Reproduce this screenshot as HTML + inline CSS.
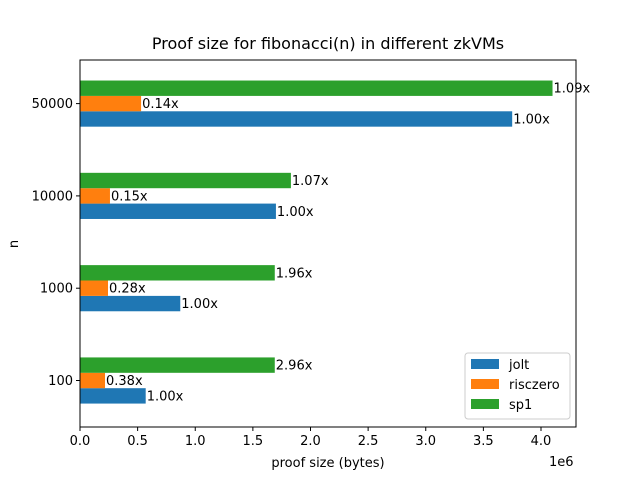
<!DOCTYPE html>
<html><head><meta charset="utf-8"><style>body{margin:0;background:#fff}svg{font-family:"DejaVu Sans","Liberation Sans",sans-serif}</style></head>
<body>
<svg id="c" width="640" height="480" viewBox="0 0 640 480" xmlns="http://www.w3.org/2000/svg"></svg>
<script>
const categories=["100","1000","10000","50000"];
const seriesNames=["jolt","risczero","sp1"];
const joltVals=[0.57e6,0.87e6,1.70e6,3.75e6];
const risczeroVals=[0.217e6,0.243e6,0.26e6,0.53e6];
const sp1Vals=[1.69e6,1.69e6,1.83e6,4.10e6];
const joltLabels=["1.00x","1.00x","1.00x","1.00x"];
const risczeroLabels=["0.38x","0.28x","0.15x","0.14x"];
const sp1Labels=["2.96x","1.96x","1.07x","1.09x"];
const xTicks=[0,0.5e6,1e6,1.5e6,2e6,2.5e6,3e6,3.5e6,4e6];
const xTickLabels=["0.0","0.5","1.0","1.5","2.0","2.5","3.0","3.5","4.0"];
const colors=["#1f77b4","#ff7f0e","#2ca02c"];
const L=80,R=576,T=60,B=427,xMax=(R-L)/115.25*1e6;
const x=v=>L+v/xMax*(R-L);
const step=92.3;
const y=i=>380.5-i*step;
const svg=document.getElementById('c');
const NS="http://www.w3.org/2000/svg";
function mk(t,a,txt){const e=document.createElementNS(NS,t);for(const k in a)e.setAttribute(k,a[k]);if(txt!=null)e.textContent=txt;svg.appendChild(e);return e;}
const bw=step*0.5/3;
const vals=[joltVals,risczeroVals,sp1Vals],labs=[joltLabels,risczeroLabels,sp1Labels];
categories.forEach((c,i)=>{
 for(let s=0;s<3;s++){
  const top=y(i)+bw*1.5-bw*(s+1);
  const r=mk('rect',{x:L,y:top,width:x(vals[s][i])-L,height:bw,fill:colors[s]});
  
  
  const t=mk('text',{x:x(vals[s][i])+1,y:top+bw/2+4.5,'font-size':13},labs[s][i]);
  
  
 }
 const tk=mk('line',{x1:L-4,x2:L,y1:y(i),y2:y(i),stroke:'#000'});
 
 const tl=mk('text',{x:L-7,y:y(i)+4.5,'font-size':13,'text-anchor':'end'},c);
 
});
xTicks.forEach((v,i)=>{
 const tk=mk('line',{x1:x(v),x2:x(v),y1:B,y2:B+4,stroke:'#000'});
 
 const tl=mk('text',{x:x(v),y:B+18,'font-size':13,'text-anchor':'middle'},xTickLabels[i]);
 
});
const fr=mk('rect',{x:L,y:T,width:R-L,height:B-T,fill:'none',stroke:'#000','stroke-width':1});

</script>
<svg width="640" height="480" style="position:absolute;left:0;top:0" xmlns="http://www.w3.org/2000/svg">
<text x="328" y="49" font-size="16" text-anchor="middle">Proof size for fibonacci(n) in different zkVMs</text>
<text x="328" y="467" font-size="13" text-anchor="middle">proof size (bytes)</text>
<text x="549" y="466" font-size="13">1e6</text>
<text x="18" y="244" font-size="13" text-anchor="middle" transform="rotate(-90 18 244)">n</text>
<g>
<rect x="465" y="353" width="105" height="66" rx="3" fill="#fff" fill-opacity="0.8" stroke="#ccc"/>
<rect x="471" y="359" width="28" height="10" fill="#1f77b4"/>
<text x="509" y="369" font-size="13">jolt</text>
<rect x="471" y="379" width="28" height="10" fill="#ff7f0e"/>
<text x="509" y="389" font-size="13">risczero</text>
<rect x="471" y="399" width="28" height="10" fill="#2ca02c"/>
<text x="509" y="409" font-size="13">sp1</text>
</g>
</svg>
</body></html>
